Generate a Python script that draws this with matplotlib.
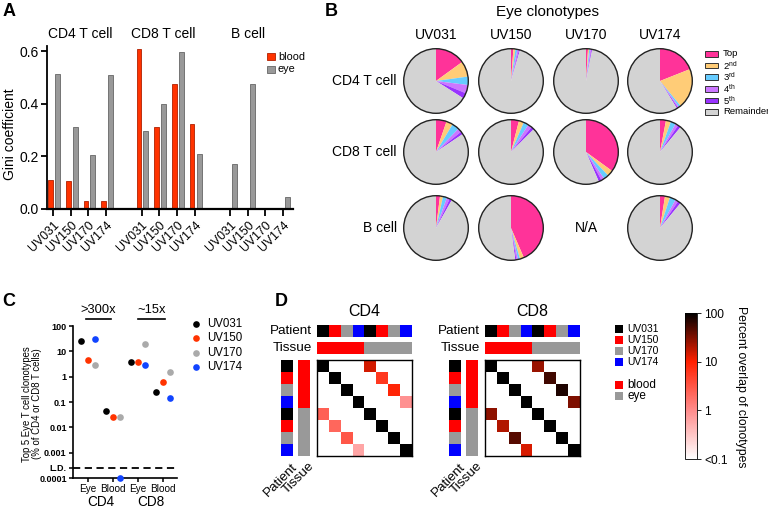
import numpy as np
import matplotlib
matplotlib.use("Agg")
import matplotlib.pyplot as plt
from matplotlib.colors import LogNorm, LinearSegmentedColormap, ListedColormap
from matplotlib.patches import Circle, Rectangle
from matplotlib.lines import Line2D
import matplotlib.transforms as mtransforms

plt.rcParams['font.family'] = ['Liberation Sans', 'DejaVu Sans']

# ---------------- data ----------------
patients = ['UV031', 'UV150', 'UV170', 'UV174']
cell_types = ['CD4 T cell', 'CD8 T cell', 'B cell']

# Panel A: Gini coefficients
gini_blood_cd4 = [0.11, 0.105, 0.03, 0.032]
gini_eye_cd4 = [0.515, 0.31, 0.205, 0.51]
gini_blood_cd8 = [0.61, 0.31, 0.475, 0.325]
gini_eye_cd8 = [0.295, 0.40, 0.597, 0.21]
gini_blood_b = [0.0, 0.0, 0.004, 0.0]
gini_eye_b = [0.172, 0.477, 0.0, 0.047]
gini_tissues = ['blood', 'eye']

# Panel B: eye clonotype fractions (Top, 2nd, 3rd, 4th, 5th); None = N/A
pie_labels = ['Top', '2$^{\\mathregular{nd}}$', '3$^{\\mathregular{rd}}$',
              '4$^{\\mathregular{th}}$', '5$^{\\mathregular{th}}$', 'Remainder']
pie_cd4 = [[0.15, 0.078, 0.042, 0.042, 0.028],
           [0.012, 0.010, 0.010, 0.008, 0.005],
           [0.010, 0.006, 0.006, 0.005, 0.004],
           [0.19, 0.20, 0.010, 0.006, 0.006]]
pie_cd8 = [[0.053, 0.033, 0.036, 0.020, 0.014],
           [0.040, 0.025, 0.025, 0.020, 0.015],
           [0.35, 0.030, 0.025, 0.015, 0.015],
           [0.030, 0.025, 0.025, 0.015, 0.015]]
pie_b = [[0.020, 0.015, 0.020, 0.015, 0.012],
         [0.435, 0.020, 0.010, 0.008, 0.006],
         None,
         [0.025, 0.025, 0.030, 0.015, 0.015]]
pie_colors = ['#FF3399', '#FFCC77', '#66CCFF', '#CC77FF', '#9933FF', '#D3D3D3']

# Panel C: top 5 eye T cell clonotypes (% of CD4 or CD8 T cells)
c_categories = ['Eye', 'Blood', 'Eye', 'Blood']
top5_cd4_eye = [26.5, 4.6, 3.0, 31.0]
top5_cd4_blood = [0.044, 0.025, 0.025, 0.0001]
top5_cd8_eye = [3.8, 3.9, 20.0, 3.0]
top5_cd8_blood = [0.24, 0.63, 1.5, 0.15]
c_colors = ['#000000', '#FF3300', '#AAAAAA', '#1144FF']
c_yticks = [100, 10, 1, 0.1, 0.01, 0.001, 0.00025, 0.0001]
c_yticklabels = ['100', '10', '1', '0.1', '0.01', '0.001', 'L.D.', '0.0001']
detection_limit = 0.00025

# Panel D: percent overlap of clonotypes (rows/cols: blood x4 then eye x4)
overlap_cd4 = [[100, 0, 0, 0, 15, 0, 0, 0],
               [0, 100, 0, 0, 0, 6, 0, 0],
               [0, 0, 100, 0, 0, 0, 9, 0],
               [0, 0, 0, 100, 0, 0, 0, 0.9],
               [2.5, 0, 0, 0, 100, 0, 0, 0],
               [0, 2.2, 0, 0, 0, 100, 0, 0],
               [0, 0, 3.0, 0, 0, 0, 100, 0],
               [0, 0, 0, 0.6, 0, 0, 0, 100]]
overlap_cd8 = [[100, 0, 0, 0, 25, 0, 0, 0],
               [0, 100, 0, 0, 0, 55, 0, 0],
               [0, 0, 100, 0, 0, 0, 75, 0],
               [0, 0, 0, 100, 0, 0, 0, 32],
               [28, 0, 0, 0, 100, 0, 0, 0],
               [0, 20, 0, 0, 0, 100, 0, 0],
               [0, 0, 45, 0, 0, 0, 100, 0],
               [0, 0, 0, 14, 0, 0, 0, 100]]
heat_patient_idx = [0, 1, 2, 3, 0, 1, 2, 3]
heat_tissue_idx = [0, 0, 0, 0, 1, 1, 1, 1]
patient_colors = ['#000000', '#FF0000', '#999999', '#0000FF']
tissue_labels = ['blood', 'eye']
tissue_colors = ['#FF0000', '#999999']

# ---------------- figure helpers ----------------
W, H = 768, 511
fig = plt.figure(figsize=(W / 100, H / 100), dpi=100)


def ax_px(l, t, w, h):
    return fig.add_axes([l / W, 1 - (t + h) / H, w / W, h / H])


def ftext(x, y, s, **kw):
    return fig.text(x / W, 1 - y / H, s, **kw)


def frect(x, yc, w, h, fc, ec='none', lw=0.0):
    fig.add_artist(Rectangle((x / W, 1 - (yc + h / 2) / H), w / W, h / H, transform=fig.transFigure,
                             facecolor=fc, edgecolor=ec, linewidth=lw))


# panel labels
for lab, (x, y) in {'A': (9, 12), 'B': (331, 11), 'C': (9, 301), 'D': (281, 301)}.items():
    ftext(x, y, lab, fontsize=13, fontweight='bold', ha='center', va='center')

# ---------------- Panel A ----------------
axA = ax_px(47, 46, 246, 163)
group_vals = [(gini_blood_cd4, gini_eye_cd4), (gini_blood_cd8, gini_eye_cd8), (gini_blood_b, gini_eye_b)]
bar_fc = ['#FF3300', '#999999']
bar_ec = ['#B02000', '#666666']
tick_pos = []
tick_lab = []
for g, (bl, ey) in enumerate(group_vals):
    pos = np.arange(4) + 5 * g
    axA.bar(pos - 0.14, bl, width=0.26, color=bar_fc[0], edgecolor=bar_ec[0], linewidth=0.6)
    axA.bar(pos + 0.25, ey, width=0.28, color=bar_fc[1], edgecolor=bar_ec[1], linewidth=0.6)
    tick_pos += list(pos)
    tick_lab += patients
axA.set_xlim(-0.34, 13.56)
axA.set_ylim(0, 0.62)
axA.set_xticks(tick_pos)
axA.set_xticklabels(tick_lab, rotation=45, ha='right', rotation_mode='anchor', fontsize=8.8)
axA.set_yticks([0, 0.2, 0.4, 0.6])
axA.set_yticklabels(['0.0', '0.2', '0.4', '0.6'], fontsize=10)
for s in ['top', 'right']:
    axA.spines[s].set_visible(False)
axA.spines['left'].set_linewidth(1.3)
axA.spines['bottom'].set_linewidth(1.6)
axA.tick_params(axis='x', length=5, width=1.3, pad=2)
axA.tick_params(axis='y', length=4, width=1.3, pad=2)
ftext(10, 134, 'Gini coefficient', fontsize=10, rotation=90, ha='center', va='center')
for i, t in enumerate(gini_tissues):
    yc = 56.5 + 13 * i
    frect(267, yc, 8, 7, bar_fc[i], bar_ec[i], 0.6)
    ftext(278, yc, t, fontsize=7.8, ha='left', va='center')
for x, t in zip([80, 163, 248], cell_types):
    ftext(x, 34, t, fontsize=10, ha='center', va='center')

# ---------------- Panel B ----------------
ftext(548, 12, 'Eye clonotypes', fontsize=11, ha='center', va='center')
pie_x = [436, 511, 586, 660]
pie_y = [81, 152, 228]
for x, p in zip(pie_x, patients):
    ftext(x, 35, p, fontsize=10, ha='center', va='center')
for y, t in zip(pie_y, cell_types):
    ftext(397, y, t, fontsize=10, ha='right', va='center')
rows = [pie_cd4, pie_cd8, pie_b]
R = 32.3
for r, row in enumerate(rows):
    for c, fr in enumerate(row):
        cx, cy = pie_x[c], pie_y[r]
        if fr is None:
            ftext(cx, cy, 'N/A', fontsize=10, ha='center', va='center')
            continue
        ax = ax_px(cx - 35, cy - 35, 70, 70)
        vals = list(fr) + [1 - sum(fr)]
        ax.pie(vals, colors=pie_colors, startangle=90, counterclock=False, radius=1,
               wedgeprops=dict(linewidth=0))
        ax.add_patch(Circle((0, 0), 1, fill=False, edgecolor='#222222', linewidth=1.0))
        lim = 35 / R
        ax.set_xlim(-lim, lim)
        ax.set_ylim(-lim, lim)
        ax.set_aspect('equal')
        ax.axis('off')
for i, (col, lab) in enumerate(zip(pie_colors, pie_labels)):
    yc = 54 + 11.6 * i
    frect(704.5, yc, 13, 5.5, col, '#333333', 0.7)
    ftext(723, yc, lab, fontsize=6.8, ha='left', va='center')

# ---------------- Panel C ----------------
axC = ax_px(73, 326, 104, 152)
series = [top5_cd4_eye, top5_cd4_blood, top5_cd8_eye, top5_cd8_blood]
offsets = [-0.3, 0.0, 0.28, 0.28]
for pi in range(4):
    xs = [i + offsets[pi] for i in range(4)]
    ys = [series[i][pi] for i in range(4)]
    axC.plot(xs, ys, 'o', color=c_colors[pi], markersize=4.8, markeredgewidth=0, clip_on=False,
             zorder=3, linestyle='none')
axC.set_yscale('log')
axC.set_ylim(0.0001, 100)
axC.set_xlim(-0.6, 3.56)
axC.set_yticks(c_yticks)
axC.set_yticklabels(c_yticklabels, fontsize=6.5, fontweight='bold')
axC.yaxis.set_minor_locator(matplotlib.ticker.NullLocator())
axC.set_xticks(range(4))
axC.set_xticklabels(c_categories, fontsize=7.2)
axC.axhline(detection_limit, color='black', linestyle=(0, (4, 2.5)), linewidth=1.3, zorder=1)
for s in ['top', 'right']:
    axC.spines[s].set_visible(False)
axC.spines['left'].set_linewidth(1.2)
axC.spines['bottom'].set_linewidth(1.2)
axC.tick_params(axis='both', length=3, width=1.1, pad=1.5)
ftext(32, 404, 'Top 5 Eye T cell clonotypes\n(% of CD4 or CD8 T cells)', fontsize=6.9,
      rotation=90, ha='center', va='center', linespacing=1.1)
trC = mtransforms.blended_transform_factory(axC.transData, axC.transAxes)
for (x0, x1), txt in zip([(-0.08, 0.92), (2.0, 3.08)], ['>300x', '~15x']):
    axC.plot([x0, x1], [1.046, 1.046], color='black', linewidth=1.2, transform=trC, clip_on=False)
    axC.text((x0 + x1) / 2, 1.105, txt, transform=trC, ha='center', va='center', fontsize=9.3)
ftext(101, 502, 'CD4', fontsize=9.8, ha='center', va='center')
ftext(151, 502, 'CD8', fontsize=9.8, ha='center', va='center')
for i, (col, p) in enumerate(zip(c_colors, patients)):
    yc = 324 + 14.3 * i
    fig.add_artist(Line2D([196 / W], [1 - yc / H], transform=fig.transFigure, marker='o',
                          markersize=4.8, markeredgewidth=0, color=col, linestyle='none'))
    ftext(207, yc, p, fontsize=8.3, ha='left', va='center')

# ---------------- Panel D ----------------
cmap = LinearSegmentedColormap.from_list(
    'overlap', [(0, '#FFFFFF'), (1 / 3, '#FF8C8C'), (2 / 3, '#FF2000'), (1, '#000000')])
cmap.set_under('white')
cmap.set_bad('white')
norm = LogNorm(vmin=0.1, vmax=100)
pcmap = ListedColormap(patient_colors)
tcmap = ListedColormap(tissue_colors)

for k, (mat, title) in enumerate([(overlap_cd4, 'CD4'), (overlap_cd8, 'CD8')]):
    dx = 168 * k
    axm = ax_px(317 + dx, 360, 95, 96)
    m = np.ma.masked_less_equal(np.array(mat, dtype=float), 0)
    im = axm.imshow(m, cmap=cmap, norm=norm, aspect='auto', interpolation='nearest')
    axm.set_xticks([])
    axm.set_yticks([])
    for s in axm.spines.values():
        s.set_linewidth(1.0)
    axp = ax_px(317 + dx, 325, 95, 12)
    axp.imshow([heat_patient_idx], cmap=pcmap, vmin=-0.5, vmax=3.5, aspect='auto', interpolation='nearest')
    axt = ax_px(317 + dx, 342, 95, 12)
    axt.imshow([heat_tissue_idx], cmap=tcmap, vmin=-0.5, vmax=1.5, aspect='auto', interpolation='nearest')
    axpl = ax_px(281 + dx, 360, 12, 96)
    axpl.imshow(np.array([heat_patient_idx]).T, cmap=pcmap, vmin=-0.5, vmax=3.5, aspect='auto',
                interpolation='nearest')
    axtl = ax_px(298 + dx, 360, 12, 96)
    axtl.imshow(np.array([heat_tissue_idx]).T, cmap=tcmap, vmin=-0.5, vmax=1.5, aspect='auto',
                interpolation='nearest')
    for a in [axp, axt, axpl, axtl]:
        a.axis('off')
    ftext(312 + dx, 331, 'Patient', fontsize=9.7, ha='right', va='center')
    ftext(312 + dx, 348, 'Tissue', fontsize=9.7, ha='right', va='center')
    ftext(291 + dx, 461, 'Patient', fontsize=9.7, rotation=45, ha='right', va='top', rotation_mode='anchor')
    ftext(308 + dx, 460, 'Tissue', fontsize=9.7, rotation=45, ha='right', va='top', rotation_mode='anchor')
    ftext(364 + dx, 311, title, fontsize=11.5, ha='center', va='center')

# legend D
for i, (col, p) in enumerate(zip(patient_colors, patients)):
    yc = 329 + 11 * i
    frect(615, yc, 7.5, 7.5, col)
    ftext(627, yc, p, fontsize=7.4, ha='left', va='center')
for i, (col, t) in enumerate(zip(tissue_colors, tissue_labels)):
    yc = 385 + 11 * i
    frect(615, yc, 7.5, 7.5, col)
    ftext(627, yc, t, fontsize=8.5, ha='left', va='center')

# colorbar
cax = ax_px(685, 313, 12, 146)
cb = fig.colorbar(im, cax=cax)
cb.set_ticks([0.1, 1, 10, 100])
cb.set_ticklabels(['<0.1', '1', '10', '100'])
cb.ax.minorticks_off()
cb.ax.tick_params(labelsize=8.6, length=3, width=0.6, pad=2)
cb.outline.set_linewidth(0.6)
ftext(741, 387, 'Percent overlap of clonotypes', fontsize=8.8, rotation=270, ha='center', va='center')

fig.savefig('out.png', dpi=100)
